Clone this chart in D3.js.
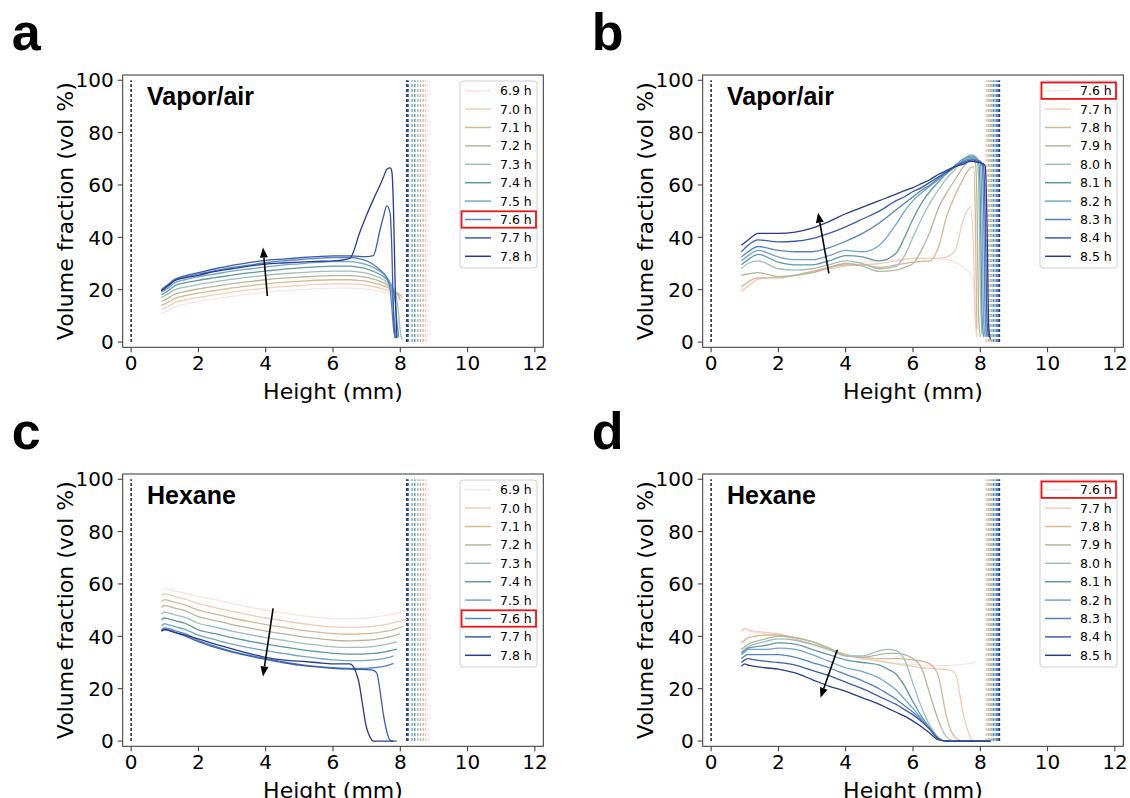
<!DOCTYPE html>
<html>
<head>
<meta charset="utf-8">
<script src="https://cdn.jsdelivr.net/npm/d3@7"></script>
<style>
  body { margin: 0; background: #fff; }
  svg { display: block; }
</style>
</head>
<body>
<div id="fig"></div>
<script>
'use strict';

/*** Data */
/** Legend labels (hours) */
const labelsEarly = ["6.9 h", "7.0 h", "7.1 h", "7.2 h", "7.3 h", "7.4 h", "7.5 h", "7.6 h", "7.7 h", "7.8 h"];
const labelsLate = ["7.6 h", "7.7 h", "7.8 h", "7.9 h", "8.0 h", "8.1 h", "8.2 h", "8.3 h", "8.4 h", "8.5 h"];

/** Series colours, earliest -> latest */
const palette = ["#fbe3e4", "#f2ccb6", "#d8b894", "#b6b69c", "#9ec0b8", "#5f98a4", "#72a4ce", "#5283bf", "#3b5bab", "#283b8c"];

/** Panel a : vapor/air, 6.9 - 7.8 h */
const heightA = [0.9, 1.1, 1.3, 1.6, 2.0, 2.5, 3.0, 3.5, 4.0, 4.5, 5.0, 5.5, 6.0, 6.5, 6.8, 7.0, 7.2, 7.4, 7.5, 7.6, 7.7, 7.75, 7.8, 7.85, 7.9, 7.95, 8.0, 8.05, 8.1];
const volA = [
  [11, 12, 13.5, 14.5, 15.5, 16.5, 17.5, 18.3, 19, 19.6, 20, 20.4, 20.6, 20.6, 20.4, 20.2, 19.8, 19.3, 19, 18.7, 18.3, 18.1, 17.9, 17.7, 17.5, 17.3, 17.1, 16.9, 16.7],
  [12.5, 13.6, 15.1, 16.1, 17.1, 18.1, 19.1, 19.9, 20.6, 21.2, 21.6, 22, 22.2, 22.2, 22, 21.7, 21.2, 20.6, 20.2, 19.9, 19.4, 19.1, 18.9, 18.6, 18.3, 18, 17.7, 17.4, 17],
  [14, 15.2, 16.7, 17.7, 18.7, 19.7, 20.7, 21.5, 22.2, 22.8, 23.2, 23.6, 23.8, 23.8, 23.5, 23.2, 22.6, 21.9, 21.4, 21, 20.3, 20, 19.6, 19.2, 18.8, 18.4, 18, 17.5, null],
  [15.5, 16.8, 18.3, 19.3, 20.3, 21.3, 22.3, 23.1, 23.8, 24.4, 24.8, 25.2, 25.4, 25.4, 25.1, 24.7, 24, 23.2, 22.6, 22, 21, 20.5, 20, 19.3, 18.5, 17.5, 16, null, null],
  [17, 18.4, 20, 21, 22, 23, 24, 24.8, 25.5, 26.1, 26.5, 26.9, 27.1, 27.1, 26.7, 26.3, 25.5, 24.5, 23.8, 23, 21.8, 21, 20, 18.5, 16, 11, 4, 1, null],
  [18, 19.6, 21.5, 22.6, 23.6, 24.6, 25.6, 26.4, 27.1, 27.8, 28.3, 28.7, 29, 29, 28.5, 28, 27, 25.8, 25, 24, 22.5, 21.5, 19.5, 15, 8, 2, null, null, null],
  [19, 20.6, 22.7, 23.8, 24.9, 26, 27.1, 27.9, 28.7, 29.4, 29.9, 30.4, 30.7, 30.7, 30.2, 29.6, 28.5, 27, 26, 24.8, 22.5, 19, 12, 5, 1.5, null, null, null, null],
  [19.5, 21.5, 23.6, 24.8, 26, 27.3, 28.5, 29.4, 30.3, 31, 31.5, 32, 32.3, 32.3, 31.8, 31, 29.6, 27.5, 26.3, 24.5, 20, 13, 5, 1.5, null, null, null, null, null],
  [20, 22, 24, 25.3, 26.5, 28, 29.3, 30.3, 31.2, 31.7, 32.2, 32.6, 32.9, 32.9, 32.7, 32.6, 33, 43, 48, 52, 49, 35, 10, 1.5, null, null, null, null, null],
  [19.5, 21.5, 23.5, 24.5, 25.5, 27, 28, 29, 29.8, 30.2, 30.5, 30.8, 31, 32, 42, 48.5, 54.5, 60, 63, 66, 66.5, 65, 50, 20, 1.5, null, null, null, null]
];

/** Panel b : vapor/air, 7.6 - 8.5 h */
const heightB = [0.9, 1.1, 1.4, 2.0, 2.5, 3.0, 3.5, 4.0, 4.5, 5.0, 5.5, 5.75, 6.0, 6.25, 6.5, 6.75, 7.0, 7.25, 7.5, 7.7, 7.8, 7.85, 7.9, 7.95, 8.0, 8.05, 8.1, 8.15, 8.2, 8.25, 8.3];
const volB = [
  [19, 21, 24, 25, 25.5, 26.5, 28, 29.5, 30.5, 31, 31.5, 31.8, 32, 32, 32, 31.8, 31.5, 30.5, 28.5, 26, 22, 10, 4, null, null, null, null, null, null, null, null],
  [19.5, 21.5, 24, 25, 25.5, 26.5, 28, 29, 29.5, 30, 31, 31.5, 32, 32, 32, 32, 32.5, 35, 47, 51.5, 35, 10, 2, null, null, null, null, null, null, null, null],
  [21, 23, 24.5, 24.5, 25.5, 27, 28.5, 29.5, 29.5, 28.5, 29.5, 30, 30.5, 30.8, 31, 36, 48, 56, 62.5, 66.5, 67, 50, 5, null, null, null, null, null, null, null, null],
  [25.5, 26, 26.5, 25, 25.5, 26.5, 28.5, 30, 29, 27, 27.5, 28.5, 30, 35, 42, 51, 57, 62, 67, 69.5, 70, 69, 55, 10, 2, null, null, null, null, null, null],
  [28, 30, 31, 28, 27.5, 28, 29.5, 31, 30, 28, 29, 33, 40, 47, 53, 58, 62.5, 66, 69.5, 71.5, 71.5, 71, 70, 62, 20, 3, null, null, null, null, null],
  [29.5, 31.5, 33.5, 30.5, 29.5, 29.5, 31, 33, 32.5, 31, 34, 40, 47, 53, 57.5, 61, 64.5, 67.5, 70, 71, 71, 70.5, 70, 69, 55, 10, 2, null, null, null, null],
  [31, 33, 35, 32.5, 31.5, 31.5, 33, 35, 34.5, 37, 45, 50, 54, 57, 59.5, 62, 64.5, 67, 69.5, 70.5, 70.5, 70.3, 70, 69.5, 69, 50, 8, 2, null, null, null],
  [32.5, 34.5, 36.5, 35, 34.5, 34.5, 36, 38.5, 41.5, 45.5, 50.5, 53, 55.5, 58, 60, 62.5, 64.5, 67, 69, 70, 70, 69.8, 69.5, 69.3, 69, 68, 50, 8, 2, null, null],
  [34.5, 37, 39, 38.3, 38.5, 39.5, 41.5, 44, 47, 50, 54, 55.5, 57.5, 59, 61, 63, 65, 67, 68.5, 69.5, 69.5, 69.3, 69, 68.8, 68.5, 68, 67, 45, 8, 2, null],
  [37, 39, 41.5, 41.5, 42, 43.5, 46, 49, 51.5, 54, 56.5, 57.8, 59, 60.5, 62, 64, 65.5, 67, 68, 69, 69, 68.8, 68.7, 68.6, 68.5, 68.3, 68, 67, 45, 6, 1]
];

/** Panel c : hexane, 6.9 - 7.8 h */
const heightC = [0.9, 1.0, 1.1, 1.3, 1.6, 2.0, 2.5, 3.0, 3.5, 4.0, 4.5, 5.0, 5.5, 6.0, 6.5, 6.75, 7.0, 7.1, 7.2, 7.3, 7.4, 7.5, 7.6, 7.7, 7.8, 7.9, 8.0, 8.1, 8.2];
const volC = [
  [57.5, 58.3, 58, 57.3, 56.5, 55.2, 54, 52.5, 51.2, 50, 49, 48, 47.3, 46.8, 46.7, 46.8, 47, 47.1, 47.3, 47.5, 47.7, 47.9, 48.1, 48.3, 48.6, 48.9, 49.2, 49.5, 49.7],
  [55.5, 56.3, 56, 55.2, 54.2, 52.5, 51, 49.5, 48.2, 47, 46, 45, 44.2, 43.6, 43.4, 43.5, 43.6, 43.7, 43.8, 44, 44.2, 44.4, 44.6, 44.9, 45.2, 45.5, 45.8, 46.2, 46.5],
  [53.3, 54, 53.7, 53, 52, 50, 48.5, 47, 45.7, 44.5, 43.5, 42.5, 41.7, 41, 40.8, 40.9, 41, 41.1, 41.2, 41.4, 41.6, 41.8, 42, 42.3, 42.6, 43, 43.4, 43.8, null],
  [51, 51.8, 51.5, 50.8, 49.8, 47.5, 46, 44.5, 43.2, 42, 41, 40, 39.2, 38.5, 38.3, 38.4, 38.5, 38.6, 38.7, 38.9, 39.1, 39.3, 39.6, 39.9, 40.2, 40.6, 41, null, null],
  [48.5, 49.3, 49, 48.2, 47.2, 45, 43.5, 42, 40.7, 39.5, 38.5, 37.5, 36.7, 36, 35.8, 35.8, 35.9, 36, 36.1, 36.3, 36.5, 36.7, 37, 37.3, 37.6, 38, null, null, null],
  [46.3, 47, 46.7, 46, 45, 42.5, 41, 39.5, 38.2, 37, 36, 35, 34.2, 33.5, 33.2, 33.2, 33.3, 33.4, 33.5, 33.6, 33.8, 34, 34.2, 34.5, 34.8, 35, null, null, null],
  [44, 44.8, 44.5, 43.7, 42.7, 40.5, 38.7, 37, 35.7, 34.5, 33.5, 32.5, 31.7, 31, 30.7, 30.7, 30.8, 30.9, 31, 31.1, 31.3, 31.5, 31.8, 32.1, 32.5, null, null, null, null],
  [42.5, 43.2, 43, 42.2, 41, 38.5, 36.2, 34.3, 32.8, 31.5, 30.3, 29.3, 28.5, 28, 27.8, 27.8, 27.8, 27.9, 28, 28.1, 28.3, 28.5, 28.8, 29.2, 29.7, null, null, null, null],
  [42, 42.8, 42.5, 41.5, 40.2, 38, 35.8, 34, 32.5, 31.2, 30, 29, 28.3, 27.8, 27.5, 27.4, 27.3, 27.2, 27, 26, 19, 10, 3.5, 0.3, 0, 0, null, null, null],
  [42, 42.5, 42.3, 41.5, 40.5, 39, 37, 35.2, 33.5, 32, 31, 30.5, 30, 29.5, 29.5, 23.5, 5, 1.5, 0, 0, 0, 0, 0, 0, 0, null, null, null, null]
];

/** Panel d : hexane, 7.6 - 8.5 h */
const heightD = [0.9, 1.0, 1.1, 1.3, 1.6, 2.0, 2.5, 3.0, 3.5, 4.0, 4.5, 5.0, 5.25, 5.5, 5.75, 6.0, 6.25, 6.5, 6.75, 7.0, 7.25, 7.5, 7.75, 7.85, 8.0, 8.3];
const volD = [
  [42, 42.5, 42, 41.5, 41, 40.5, 38.5, 36.5, 34.5, 33, 31.5, 30.5, 30, 29.8, 29.5, 29.2, 29, 28.8, 28.8, 28.8, 29, 29.3, 29.8, 30.3, null, null],
  [42, 43, 42.5, 42, 41.5, 41, 39, 37, 35, 33, 31.5, 30.5, 30, 29.5, 29, 28.5, 28, 27.8, 27.5, 27.3, 26, 10, 0.5, 0, 0, 0],
  [37.5, 38.5, 39.5, 40, 40.5, 40.5, 39.5, 38, 35.5, 33, 32, 31.5, 31.5, 31.5, 31.3, 31, 30.5, 29.5, 25, 9, 1.5, 0, 0, 0, 0, 0],
  [35, 36, 37, 38, 39, 40, 39.5, 38, 35.5, 32.5, 32, 33, 33.5, 33.5, 33, 31.5, 28, 18, 8, 1.5, 0, 0, 0, 0, 0, 0],
  [34, 35, 36, 37, 38, 39, 38.5, 37, 35, 32.5, 32.5, 34.5, 35, 34.5, 31, 22, 13, 6, 1.5, 0, 0, 0, 0, 0, 0, 0],
  [33.5, 34.5, 35.5, 36, 36.5, 37.5, 37, 35, 33, 31, 30, 29, 27.5, 25.5, 21, 15, 9.5, 5, 1, 0, 0, 0, 0, 0, 0, 0],
  [33, 34, 35, 35, 35, 35.5, 35, 33, 30.5, 28, 26.5, 24, 22, 19.5, 16, 12.5, 8.5, 4.5, 1, 0, 0, 0, 0, 0, 0, 0],
  [31.5, 32.5, 33, 33, 33, 33, 32, 30, 28, 25.5, 23, 20, 18, 16, 13.5, 11, 8, 4.5, 1, 0, 0, 0, 0, 0, 0, 0],
  [30, 31, 31.5, 31, 30.5, 30, 29, 27, 25, 22.5, 20, 17, 15.5, 14, 12, 10, 7.5, 4.5, 1, 0, 0, 0, 0, 0, 0, 0],
  [28.5, 29.5, 29, 28.5, 28, 27.5, 26, 23.5, 21, 19, 16.5, 14, 12.5, 11, 9.5, 7.6, 5.5, 3, 0.5, 0, 0, 0, 0, 0, 0, 0]
];

/** Sample top surface (dashed verticals), one per series, in mm */
const surfaceEarly = [8.82, 8.75, 8.68, 8.6, 8.52, 8.43, 8.35, 8.24, 8.21, 8.19];
const surfaceLate = [8.15, 8.19, 8.24, 8.29, 8.34, 8.39, 8.44, 8.49, 8.53, 8.57];

/** Trend arrows [x0, y0, x1, y1] in data units */
const arrowA = [4.05, 17.6, 3.92, 36.1];
const arrowB = [3.5, 26.2, 3.18, 49.4];
const arrowC = [4.22, 50.7, 3.92, 24.7];
const arrowD = [3.75, 34.9, 3.25, 16.5];

/** Axis ticks */
const xTicks = [0, 2, 4, 6, 8, 10, 12];
const yTicks = [0, 20, 40, 60, 80, 100];

/*** Layout */
const W = 1130, H = 798;
const pw = 420.6, ph = 272.3;
const tickFont = "'DejaVu Sans', sans-serif";
const boldFont = "'Liberation Sans', Arial, sans-serif";

const panels = [
  {letter: "a", left: 122.7, top: 75,  h: heightA, v: volA, labels: labelsEarly, surf: surfaceEarly, title: "Vapor/air", arrow: arrowA, boxed: 7},
  {letter: "b", left: 702.7, top: 75,  h: heightB, v: volB, labels: labelsLate,  surf: surfaceLate,  title: "Vapor/air", arrow: arrowB, boxed: 0},
  {letter: "c", left: 122.7, top: 474, h: heightC, v: volC, labels: labelsEarly, surf: surfaceEarly, title: "Hexane",    arrow: arrowC, boxed: 7},
  {letter: "d", left: 702.7, top: 474, h: heightD, v: volD, labels: labelsLate,  surf: surfaceLate,  title: "Hexane",    arrow: arrowD, boxed: 0}
];

const svg = d3.select("#fig").append("svg")
  .attr("width", W)
  .attr("height", H)
  .attr("viewBox", `0 0 ${W} ${H}`);

const x = d3.scaleLinear().domain([-0.25, 12.25]).range([0, pw]);
const y = d3.scaleLinear().domain([-2, 102]).range([ph, 0]);

panels.forEach((p) => {
  const g = svg.append("g").attr("transform", `translate(${p.left},${p.top})`);

  // panel letter
  svg.append("text")
    .attr("x", p.left - 111)
    .attr("y", p.top - 25)
    .attr("font-family", boldFont)
    .attr("font-weight", "bold")
    .attr("font-size", 52)
    .text(p.letter);

  // dashed line at the substrate (0 mm)
  g.append("line")
    .attr("x1", x(0)).attr("x2", x(0))
    .attr("y1", y(0)).attr("y2", y(100))
    .attr("stroke", "#222")
    .attr("stroke-width", 1.5)
    .attr("stroke-dasharray", "3,2");

  // dashed lines at the top surface of each scan
  p.surf.forEach((s, i) => {
    g.append("line")
      .attr("x1", x(s)).attr("x2", x(s))
      .attr("y1", y(0)).attr("y2", y(100))
      .attr("stroke", palette[i])
      .attr("stroke-width", 1.4)
      .attr("stroke-dasharray", "3,2");
  });

  // profiles
  const line = d3.line()
    .defined((d) => d[1] != null)
    .x((d) => x(d[0]))
    .y((d) => y(d[1]))
    .curve(d3.curveMonotoneX);

  p.v.forEach((vals, i) => {
    g.append("path")
      .datum(p.h.map((hh, k) => [hh, vals[k]]))
      .attr("d", line)
      .attr("fill", "none")
      .attr("stroke", palette[i])
      .attr("stroke-width", 1.3)
      .attr("stroke-linejoin", "round");
  });

  // trend arrow
  const [ax0, ay0, ax1, ay1] = p.arrow;
  const X0 = x(ax0), Y0 = y(ay0), X1 = x(ax1), Y1 = y(ay1);
  const len = Math.hypot(X1 - X0, Y1 - Y0);
  const ux = (X1 - X0) / len, uy = (Y1 - Y0) / len;
  const headL = 10, headW = 4;
  const bx = X1 - ux * headL, by = Y1 - uy * headL;
  g.append("line")
    .attr("x1", X0).attr("y1", Y0)
    .attr("x2", bx).attr("y2", by)
    .attr("stroke", "#000")
    .attr("stroke-width", 1.6);
  g.append("path")
    .attr("d", `M${X1},${Y1}L${bx - uy * headW},${by + ux * headW}L${bx + uy * headW},${by - ux * headW}Z`)
    .attr("fill", "#000");

  // title inside axes
  g.append("text")
    .attr("x", 24.3)
    .attr("y", 30)
    .attr("font-family", boldFont)
    .attr("font-weight", "bold")
    .attr("font-size", 25)
    .text(p.title);

  // legend
  const lg = g.append("g").attr("transform", `translate(${pw - 83.3},6)`);
  lg.append("rect")
    .attr("width", 77).attr("height", 187)
    .attr("rx", 3)
    .attr("fill", "#fff").attr("fill-opacity", 0.8)
    .attr("stroke", "#d0d0d0");
  p.labels.forEach((lab, i) => {
    const yy = 9.7 + 18.4 * i;
    lg.append("line")
      .attr("x1", 5).attr("x2", 31)
      .attr("y1", yy).attr("y2", yy)
      .attr("stroke", palette[i])
      .attr("stroke-width", 1.5);
    lg.append("text")
      .attr("x", 40).attr("y", yy)
      .attr("dy", "0.36em")
      .attr("font-family", tickFont)
      .attr("font-size", 12.5)
      .text(lab);
  });
  lg.append("rect")
    .attr("x", 1.5).attr("y", 9.7 + 18.4 * p.boxed - 8.2)
    .attr("width", 74.5).attr("height", 16.4)
    .attr("fill", "none")
    .attr("stroke", "#e8141c")
    .attr("stroke-width", 1.8);

  // axes frame
  g.append("rect")
    .attr("width", pw).attr("height", ph)
    .attr("fill", "none")
    .attr("stroke", "#333")
    .attr("stroke-width", 1);

  // x ticks
  xTicks.forEach((t) => {
    g.append("line")
      .attr("x1", x(t)).attr("x2", x(t))
      .attr("y1", ph).attr("y2", ph + 5)
      .attr("stroke", "#333");
    g.append("text")
      .attr("x", x(t)).attr("y", ph + 23)
      .attr("text-anchor", "middle")
      .attr("font-family", tickFont)
      .attr("font-size", 20)
      .text(t);
  });

  // y ticks
  yTicks.forEach((t) => {
    g.append("line")
      .attr("x1", -5).attr("x2", 0)
      .attr("y1", y(t)).attr("y2", y(t))
      .attr("stroke", "#333");
    g.append("text")
      .attr("x", -9).attr("y", y(t))
      .attr("dy", "0.36em")
      .attr("text-anchor", "end")
      .attr("font-family", tickFont)
      .attr("font-size", 20)
      .text(t);
  });

  // axis labels
  g.append("text")
    .attr("x", pw / 2).attr("y", ph + 52)
    .attr("text-anchor", "middle")
    .attr("font-family", tickFont)
    .attr("font-size", 22)
    .text("Height (mm)");
  g.append("text")
    .attr("transform", `translate(-50,${ph / 2}) rotate(-90)`)
    .attr("text-anchor", "middle")
    .attr("font-family", tickFont)
    .attr("font-size", 22)
    .text("Volume fraction (vol %)");
});
</script>
</body>
</html>
